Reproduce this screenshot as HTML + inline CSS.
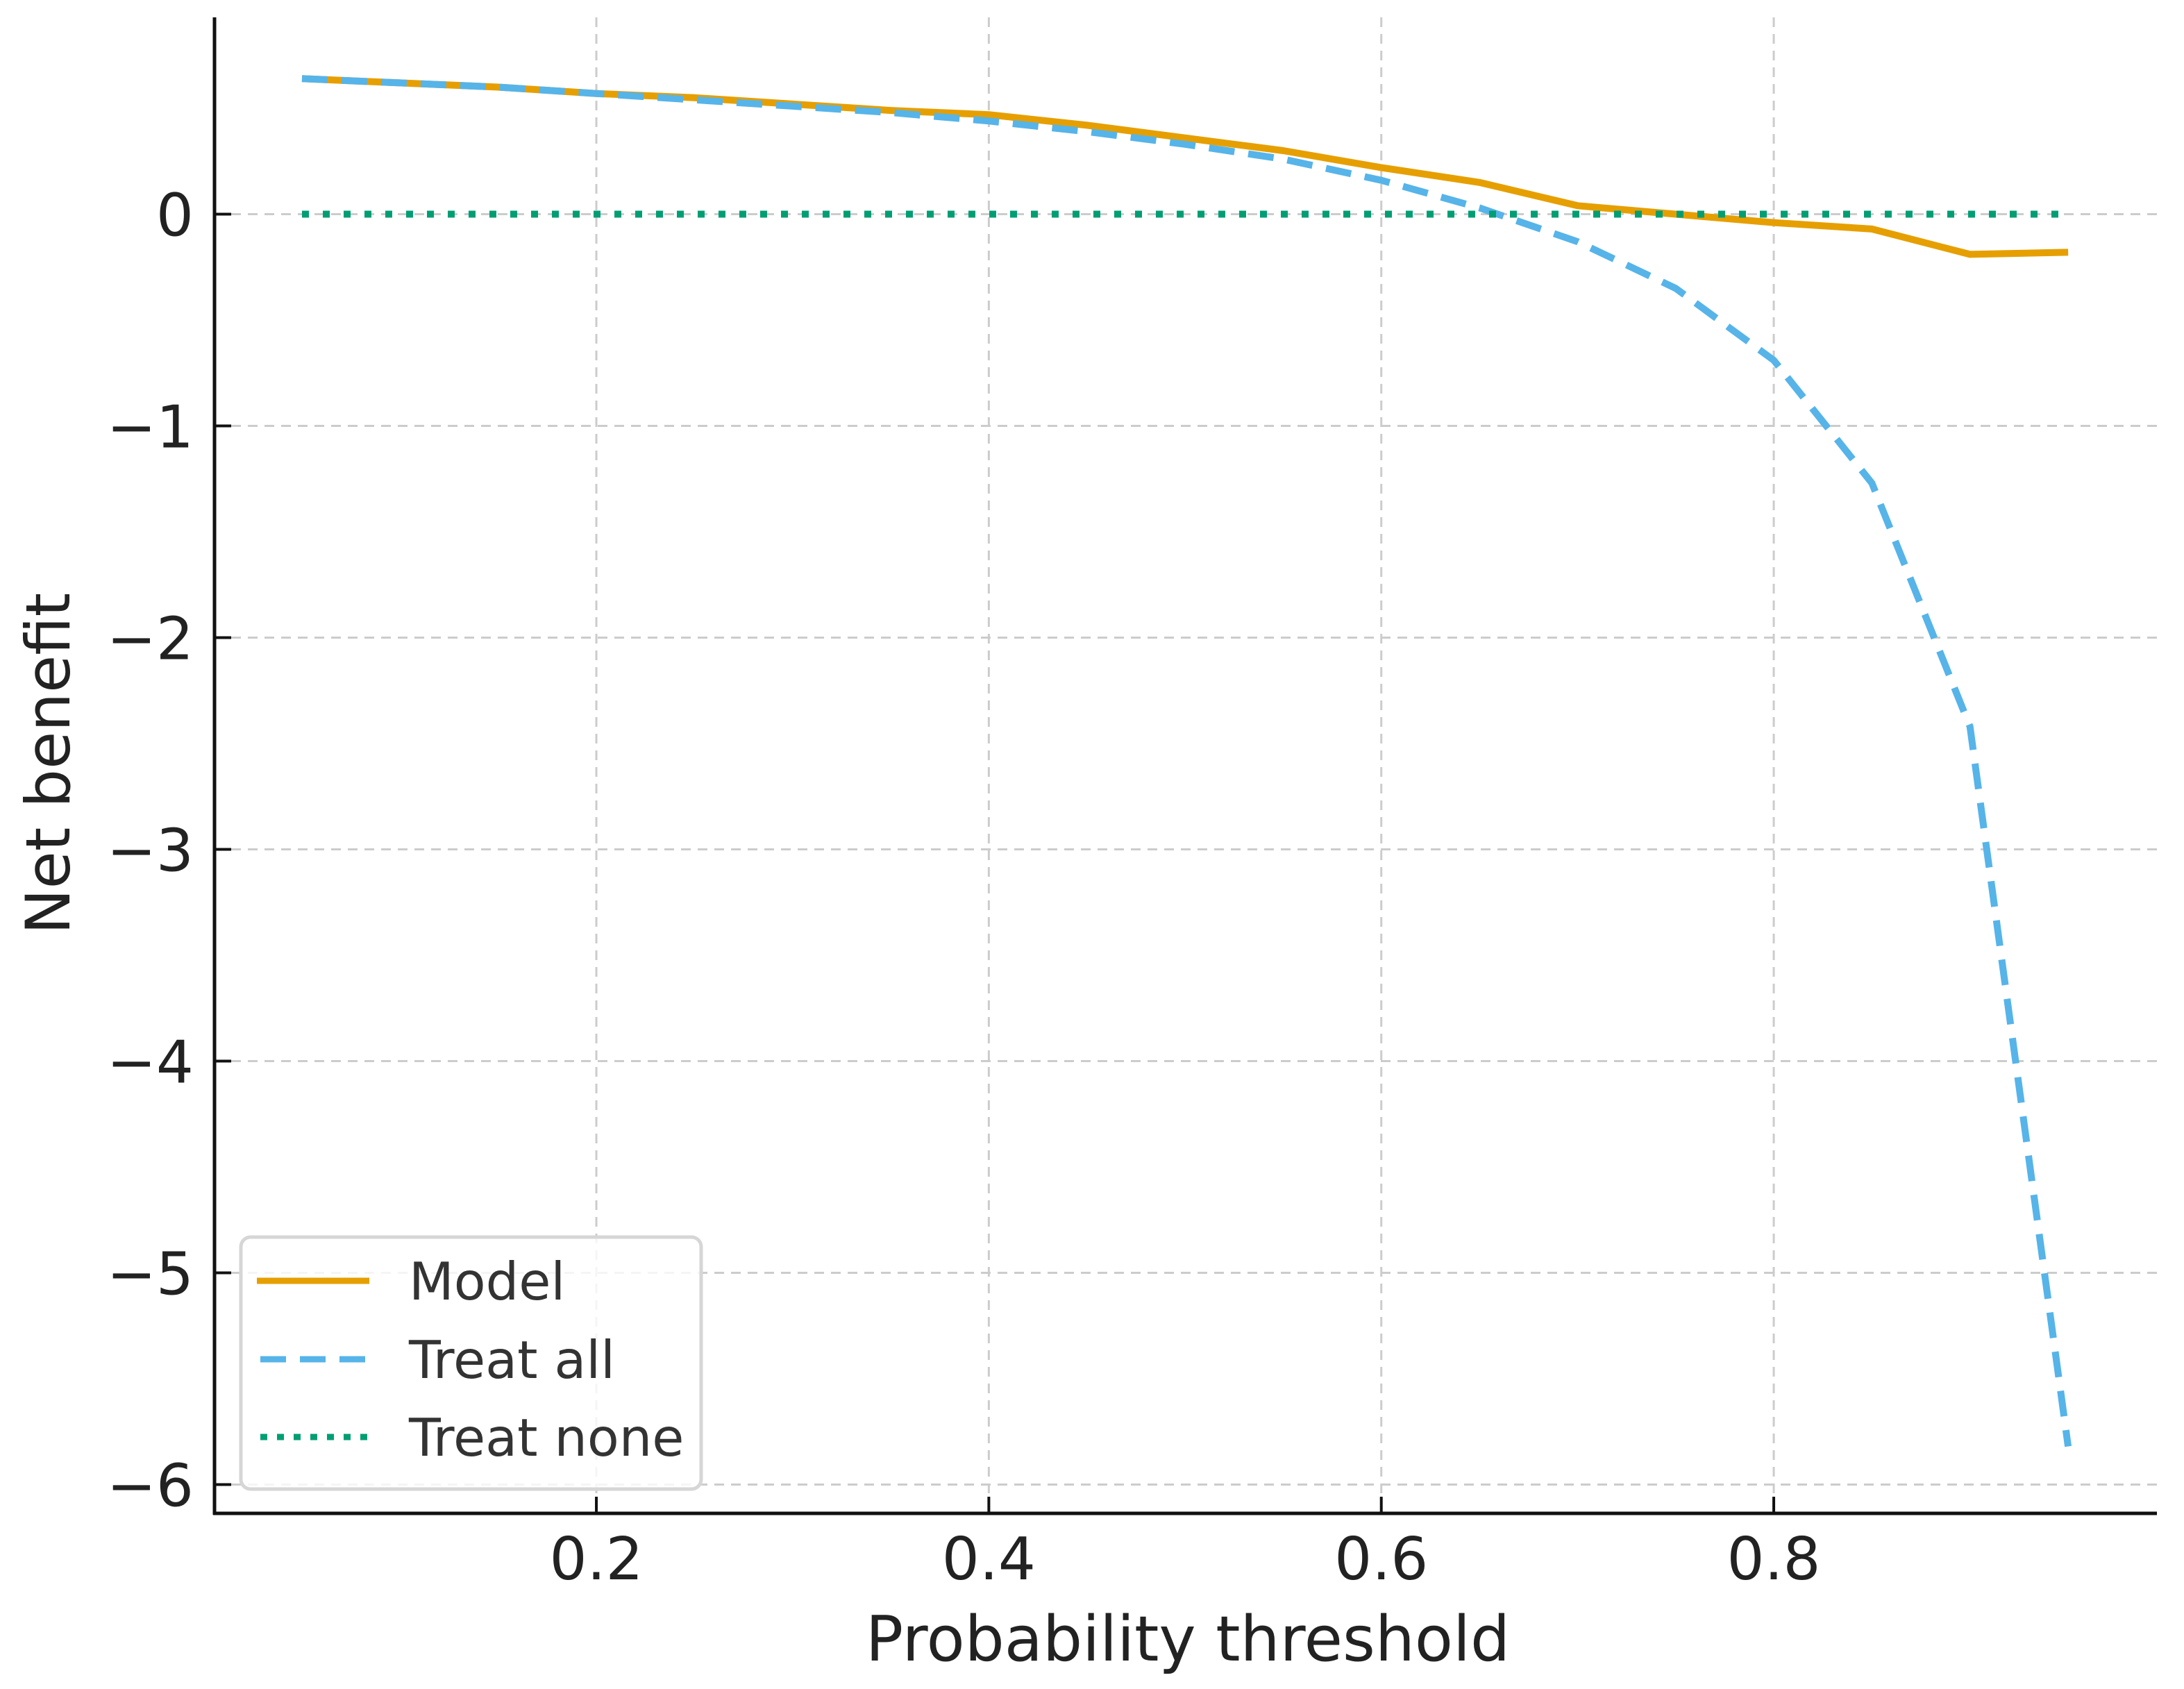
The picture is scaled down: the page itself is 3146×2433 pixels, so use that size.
<!DOCTYPE html>
<html><head><meta charset="utf-8"><style>
html,body{margin:0;padding:0;background:#fff;}
svg{display:block;font-family:"DejaVu Sans","Liberation Sans",sans-serif;}
</style></head><body>
<svg id="chart" width="3146" height="2433" viewBox="0 0 3146 2433">
<g id="grid"></g>
<g id="series"></g>
<g id="axes"></g>
<text x="1711" y="2392" font-size="90" text-anchor="middle" fill="#222">Probability threshold</text>
<text x="0" y="0" font-size="88" text-anchor="middle" fill="#222" transform="translate(100,1100) rotate(-90)">Net benefit</text>
<g>
<rect x="347" y="1782" width="663" height="363" rx="14" fill="#fff" fill-opacity="0.8" stroke="#d6d6d6" stroke-width="5"/>
<line x1="370" y1="1845" x2="532" y2="1845" stroke="#E69F00" stroke-width="9"/>
<text x="589" y="1872" font-size="75" fill="#333">Model</text>
<line x1="375" y1="1958" x2="532" y2="1958" stroke="#56B4E9" stroke-width="9" stroke-dasharray="37,20"/>
<text x="589" y="1985" font-size="75" fill="#333">Treat all</text>
<line x1="375" y1="2070" x2="532" y2="2070" stroke="#009E73" stroke-width="9" stroke-dasharray="10,14"/>
<text x="589" y="2097" font-size="75" fill="#333">Treat none</text>
</g>
</svg>
<script>
const thresholds=[0.05,0.1,0.15,0.2,0.25,0.3,0.35,0.4,0.45,0.5,0.55,0.6,0.65,0.7,0.75,0.8,0.85,0.9,0.95];
const modelValues=[0.64,0.62,0.60,0.57,0.55,0.52,0.49,0.47,0.42,0.36,0.30,0.22,0.15,0.04,0.0,-0.04,-0.07,-0.19,-0.18];
const treatAllValues=[0.64,0.62,0.60,0.57,0.54,0.51,0.48,0.44,0.39,0.33,0.26,0.16,0.03,-0.13,-0.35,-0.69,-1.27,-2.42,-5.82];
const treatNoneValues=[0,0,0,0,0,0,0,0,0,0,0,0,0,0,0,0,0,0,0];
const xTicks=[0.2,0.4,0.6,0.8];
const xTickLabels=["0.2","0.4","0.6","0.8"];
const yTicks=[0,-1,-2,-3,-4,-5,-6];
const yTickLabels=["0","\u22121","\u22122","\u22123","\u22124","\u22125","\u22126"];

const NS="http://www.w3.org/2000/svg";
const L=309,R=3107,T=25,B=2180;
function xs(v){return 293.7+v*2826.7;}
function ys(v){return 308.5-v*305;}
function mk(tag,attrs,parent){const e=document.createElementNS(NS,tag);for(const k in attrs)e.setAttribute(k,attrs[k]);parent.appendChild(e);return e;}
const grid=document.getElementById('grid'),series=document.getElementById('series'),axes=document.getElementById('axes');
xTicks.forEach((t,i)=>{
  const g=mk('line',{x1:xs(t),x2:xs(t),y1:T,y2:B,stroke:'#cccccc','stroke-width':3,'stroke-dasharray':'14,10'},grid);
  
  
  const tk=mk('line',{x1:xs(t),x2:xs(t),y1:B,y2:B-24,stroke:'#111','stroke-width':4},axes);
  
  
  const lb=mk('text',{x:xs(t),y:2275,'font-size':85,'text-anchor':'middle',fill:'#222'},axes);
  lb.textContent=xTickLabels[i];
  
  
});
yTicks.forEach((t,i)=>{
  const g=mk('line',{x1:L,x2:R,y1:ys(t),y2:ys(t),stroke:'#cccccc','stroke-width':3,'stroke-dasharray':'14,10'},grid);
  
  
  const tk=mk('line',{x1:L,x2:L+24,y1:ys(t),y2:ys(t),stroke:'#111','stroke-width':4},axes);
  
  
  const lb=mk('text',{x:279,y:ys(t)+31,'font-size':85,'text-anchor':'end',fill:'#222'},axes);
  lb.textContent=yTickLabels[i];
  
  
});
function pts(vals){return thresholds.map((t,i)=>xs(t).toFixed(1)+','+ys(vals[i]).toFixed(1)).join(' ');}
const m=mk('polyline',{points:pts(modelValues),fill:'none',stroke:'#E69F00','stroke-width':10,'stroke-linejoin':'round'},series);


const a=mk('polyline',{points:pts(treatAllValues),fill:'none',stroke:'#56B4E9','stroke-width':10,'stroke-dasharray':'37,20'},series);


const n=mk('polyline',{points:pts(treatNoneValues),fill:'none',stroke:'#009E73','stroke-width':10,'stroke-dasharray':'10,20'},series);


const ya=mk('line',{x1:L,x2:L,y1:T,y2:B+2,stroke:'#111','stroke-width':5},axes);


const xa=mk('line',{x1:L-2,x2:R,y1:B,y2:B,stroke:'#111','stroke-width':5},axes);


</script>
</body></html>
